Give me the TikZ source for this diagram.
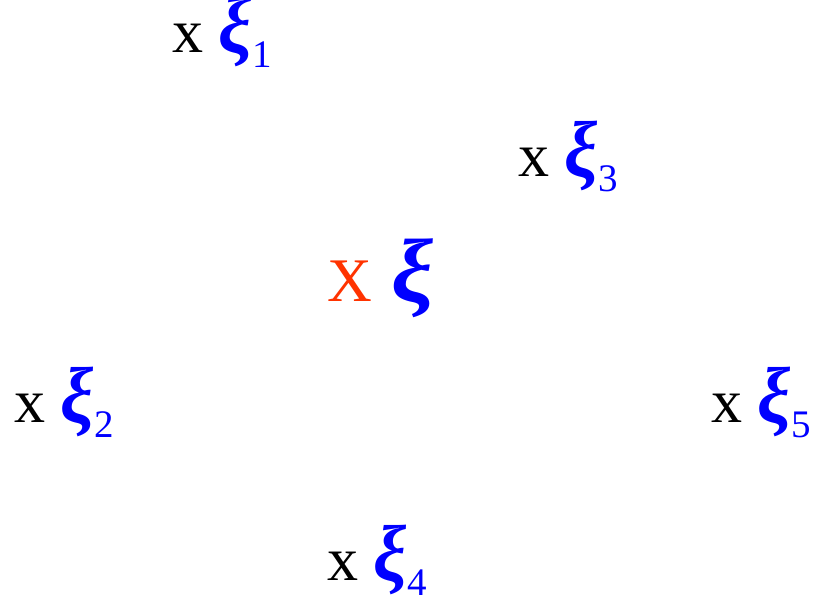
\documentclass[tikz,border=0pt]{standalone}
\usepackage{fontspec}
\usepackage{graphicx}
\setmainfont{Liberation Serif}
\definecolor{xired}{RGB}{255,51,0}
\tikzset{
  pt/.style={anchor=base west, inner sep=0pt, font=\fontsize{62}{62}\selectfont}
}
\newcommand{\xiglyph}[2]{{\color{blue}\bfseries\itshape\scalebox{#1}[#2]{ξ}}}
\newcommand{\xisub}[1]{\xiglyph{1.2}{1.28}{\color{blue}\fontsize{39}{39}\selectfont\raisebox{-15pt}{#1}}}
\begin{document}
\begin{tikzpicture}[x=1pt, y=1pt]
  \useasboundingbox (0,0) rectangle (816,599);
  % sample points
  \node[pt] (p1) at (172,546) {x \xisub{1}};
  \node[pt] (p3) at (518,422) {x \xisub{3}};
  \node[pt] (p2) at (14,176) {x \xisub{2}};
  \node[pt] (p5) at (711,176) {x \xisub{5}};
  \node[pt] (p4) at (327,18) {x \xisub{4}};
  % estimate
  \node[pt] (c) at (327,297) {{\color{xired}X} \hspace{4pt}\xiglyph{1.52}{1.45}};
\end{tikzpicture}
\end{document}
